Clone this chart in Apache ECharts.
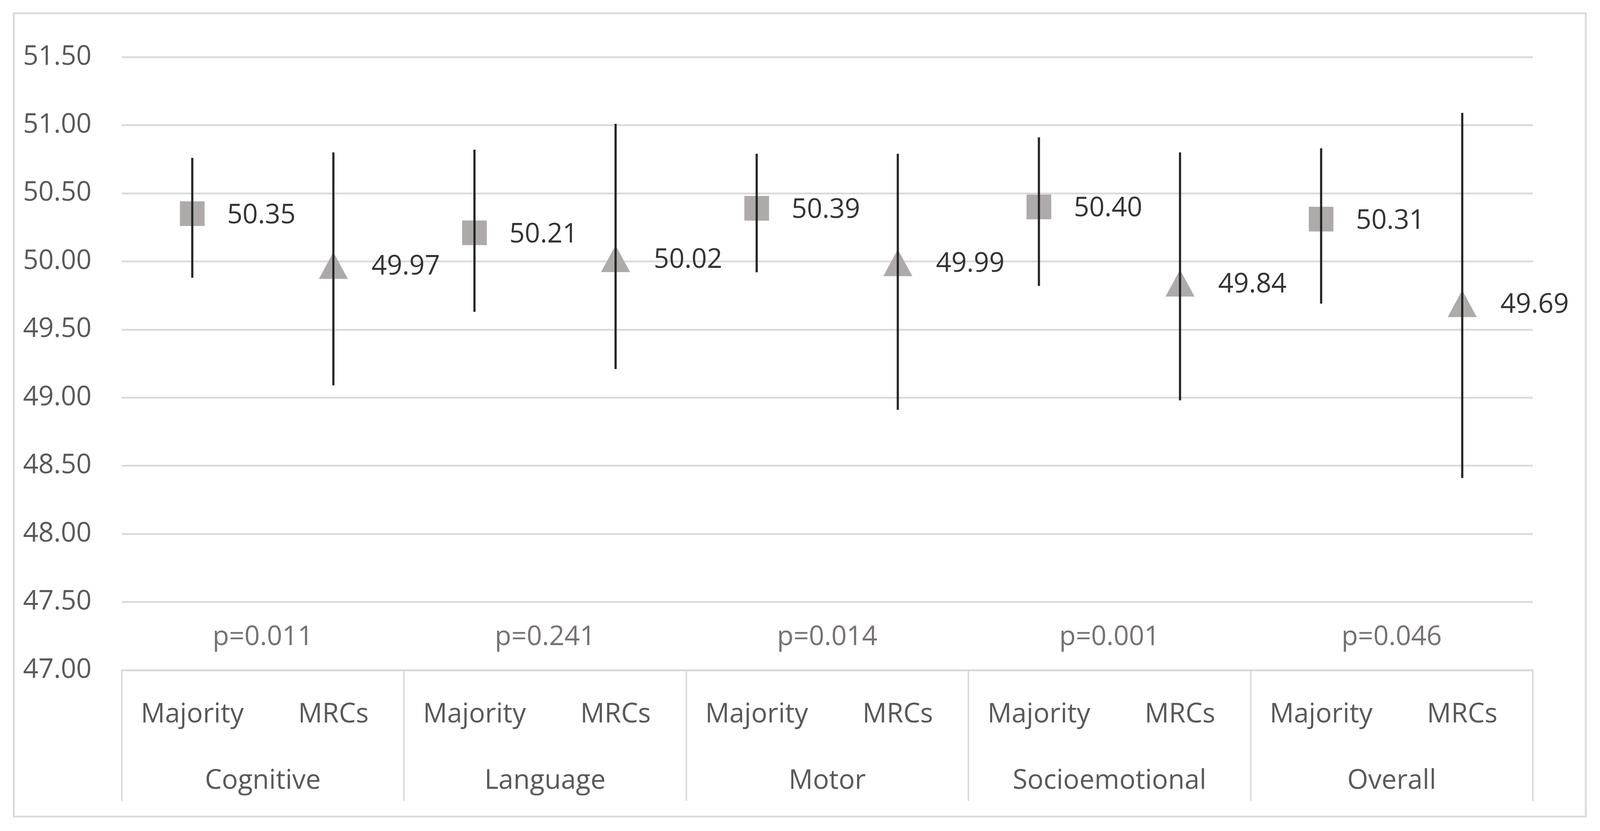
<!DOCTYPE html>
<html>
<head>
<meta charset="utf-8">
<script src="https://cdn.jsdelivr.net/npm/echarts@6/dist/echarts.min.js"></script>
<style>
  html, body { margin: 0; padding: 0; background: #ffffff; overflow: hidden; }
  #chart { width: 100vw; height: 100vh; }
</style>
</head>
<body>
<div id="chart"></div>
<script>
// ---- data ----
const domains = ['Cognitive', 'Language', 'Motor', 'Socioemotional', 'Overall'];
const groups = ['Majority', 'MRCs'];
const majorityMean = [50.35, 50.21, 50.39, 50.40, 50.31];
const majorityLow  = [49.88, 49.63, 49.92, 49.82, 49.69];
const majorityHigh = [50.76, 50.82, 50.79, 50.91, 50.83];
const mrcsMean = [49.97, 50.02, 49.99, 49.84, 49.69];
const mrcsLow  = [49.09, 49.21, 48.91, 48.98, 48.41];
const mrcsHigh = [50.80, 51.01, 50.79, 50.80, 51.09];
const pValues = ['p=0.011', 'p=0.241', 'p=0.014', 'p=0.001', 'p=0.046'];
const yTicks = { min: 47, max: 51.5, interval: 0.5 };

// ---- derived structures ----
const subCategories = [];
domains.forEach(() => groups.forEach(g => subCategories.push(g)));
const majorityPts = majorityMean.map((v, i) => [2 * i, v]);
const mrcsPts = mrcsMean.map((v, i) => [2 * i + 1, v]);
const errorBars = [];
domains.forEach((d, i) => {
  errorBars.push([2 * i, majorityLow[i], majorityHigh[i]]);
  errorBars.push([2 * i + 1, mrcsLow[i], mrcsHigh[i]]);
});
const P_ROW = 47.25; // p-value text row, between the 47.00 and 47.50 lines
const pPts = pValues.map((p, i) => [i, P_ROW]);

// ---- layout scaled to the actual viewport (designed for 4404 x 2128) ----
const el = document.getElementById('chart');
const W = el.clientWidth || window.innerWidth;
const H = el.clientHeight || window.innerHeight;
const sx = W / 4404, sy = H / 2128, s = Math.min(sx, sy);

const FONT = 'Open Sans';
const FS = 74 * s;
const GRID_COLOR = '#d9d9d9';
const MARKER = '#AEAAAA';

const chart = echarts.init(el, null, { renderer: 'canvas' });

chart.setOption({
  backgroundColor: '#ffffff',
  animation: false,
  textStyle: { fontFamily: FONT },
  graphic: [{
    type: 'rect',
    shape: { x: 38 * sx, y: 34 * sy, width: 4327 * sx, height: 2057 * sy },
    style: { fill: 'none', stroke: GRID_COLOR, lineWidth: 5 * s },
    silent: true,
    z: 0
  }],
  grid: { left: 335 * sx, right: 185 * sx, top: 146 * sy, bottom: 412 * sy, containLabel: false },
  xAxis: [{
    type: 'category',
    data: subCategories,
    boundaryGap: true,
    axisLine: { show: true, lineStyle: { color: GRID_COLOR, width: 5 * s } },
    axisTick: { show: false },
    axisLabel: { interval: 0, margin: 80 * sy, fontFamily: FONT, fontSize: FS, color: '#595959' },
    splitLine: { show: false }
  }, {
    type: 'category',
    data: domains,
    position: 'bottom',
    boundaryGap: true,
    axisLine: { show: false },
    axisTick: { show: true, length: 335 * sy, interval: 0, lineStyle: { color: GRID_COLOR, width: 4 * s } },
    axisLabel: { interval: 0, margin: 250 * sy, fontFamily: FONT, fontSize: FS, color: '#595959' },
    splitLine: { show: false }
  }],
  yAxis: {
    type: 'value',
    min: yTicks.min,
    max: yTicks.max,
    interval: yTicks.interval,
    axisLine: { show: false },
    axisTick: { show: false },
    axisLabel: {
      margin: 83 * sx, fontFamily: FONT, fontSize: FS, color: '#595959',
      formatter: v => v.toFixed(2)
    },
    splitLine: { show: true, lineStyle: { color: GRID_COLOR, width: 5 * s } }
  },
  series: [{
    name: 'Majority',
    type: 'scatter',
    xAxisIndex: 0,
    data: majorityPts,
    symbol: 'rect',
    symbolSize: 68 * s,
    itemStyle: { color: MARKER, opacity: 1 },
    z: 2,
    label: {
      show: true, position: 'right', distance: 62 * sx, offset: [0, 5 * sy],
      fontFamily: FONT, fontSize: FS, color: '#333333',
      formatter: p => p.value[1].toFixed(2)
    }
  }, {
    name: 'MRCs',
    type: 'scatter',
    xAxisIndex: 0,
    data: mrcsPts,
    symbol: 'triangle',
    symbolSize: [80 * s, 74 * s],
    itemStyle: { color: MARKER, opacity: 1 },
    z: 2,
    label: {
      show: true, position: 'right', distance: 65 * sx, offset: [0, 4 * sy],
      fontFamily: FONT, fontSize: FS, color: '#333333',
      formatter: p => p.value[1].toFixed(2)
    }
  }, {
    name: 'CI',
    type: 'custom',
    xAxisIndex: 0,
    data: errorBars,
    z: 5,
    encode: { x: 0, y: [1, 2] },
    renderItem: (params, api) => {
      const lo = api.coord([api.value(0), api.value(1)]);
      const hi = api.coord([api.value(0), api.value(2)]);
      return {
        type: 'line',
        shape: { x1: lo[0], y1: lo[1], x2: hi[0], y2: hi[1] },
        style: { stroke: '#262626', lineWidth: 6 * s }
      };
    }
  }, {
    name: 'p',
    type: 'scatter',
    xAxisIndex: 1,
    data: pPts,
    symbol: 'circle',
    symbolSize: 2,
    itemStyle: { color: 'rgba(255,255,255,0)' },
    z: 3,
    label: {
      show: true, position: 'inside', offset: [0, 4 * sy],
      fontFamily: FONT, fontSize: FS, color: '#767171', opacity: 1,
      formatter: p => pValues[p.dataIndex]
    }
  }]
});
</script>
</body>
</html>
